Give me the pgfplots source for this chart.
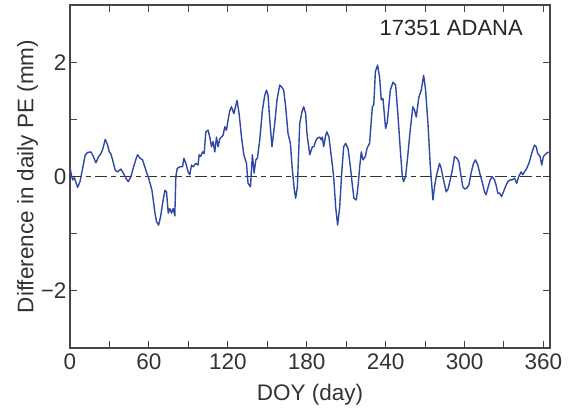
\documentclass[border=0pt]{standalone}
\usepackage{fontspec}
\setmainfont{Liberation Sans}
\usepackage{pgfplots}
\pgfplotsset{compat=1.18}
\definecolor{peblue}{RGB}{48,72,165}
\definecolor{axgray}{RGB}{70,70,70}

\pgfplotstableread{
doy diff
0 0.17
1 0.03
2 -0.06
3.3 -0.02
5.8 -0.19
7.6 -0.09
9.6 0.14
11.6 0.38
13.4 0.42
16 0.43
17.7 0.35
19.7 0.24
21.8 0.35
23.5 0.40
24.8 0.47
26.8 0.65
28.6 0.55
29.9 0.43
31 0.40
32.4 0.29
34.4 0.11
36.2 0.08
38.7 0.13
40.5 0.06
42.5 -0.03
44.3 -0.09
46.3 0
48.4 0.17
50.1 0.30
51.4 0.38
53.2 0.32
55.2 0.29
57.7 0.11
60.2 -0.06
62.3 -0.24
63.3 -0.41
64.6 -0.64
65.8 -0.79
67.4 -0.85
68.9 -0.70
70.4 -0.47
72.2 -0.24
73.4 -0.27
74.7 -0.64
75.9 -0.56
77.2 -0.64
78.5 -0.56
79.7 -0.69
80.5 0
81.5 0.14
83.5 0.17
85.6 0.17
86.6 0.32
88.1 0.23
89.8 0.08
91.1 0.03
92.4 0.20
93.7 0.17
95.7 0.23
97.4 0.20
98.2 0.38
99.3 0.35
100.8 0.43
102 0.40
103.3 0.78
105 0.81
106.3 0.69
107.6 0.52
108.8 0.61
110.1 0.43
111.4 0.69
112.6 0.52
113.9 0.66
116.4 0.72
117.7 0.87
119 0.81
120.2 0.99
121.5 1.15
122.8 1.22
124.6 1.10
127 1.33
128.6 1.10
130.4 0.69
132.2 0.38
134.2 0.23
135.4 -0.12
137.2 -0.18
138.7 0.38
140 0.06
141.3 0.29
142.5 0.32
144.3 0.64
146.3 1.16
148.1 1.42
149.4 1.51
150.6 1.42
151.9 0.99
153.6 0.52
155.7 0.93
157.4 1.34
159.5 1.60
160.8 1.57
162.5 1.51
164 1.22
165.8 0.75
167.6 0.58
169.1 0.11
170.6 -0.24
171.6 -0.38
172.9 -0.18
174.7 0.93
176.4 1.13
177.7 1.22
179.2 1.10
180.2 0.75
182.3 0.38
184.3 0.52
185.5 0.52
186.6 0.61
188.1 0.67
189.9 0.69
191.1 0.64
191.9 0.69
192.9 0.52
194.4 0.72
195.4 0.78
196.9 0.69
198.7 0.35
200.5 0
202 -0.53
203.5 -0.85
205.1 -0.53
206.6 0.06
208.1 0.52
209.6 0.58
211.4 0.49
213.2 0.17
214.7 -0.15
215.9 -0.38
217.7 -0.41
219 -0.18
220.3 0.17
221.5 0.43
222.8 0.29
224.6 0.35
225.8 0.49
227.8 0.58
229.9 1.22
231 1.25
232.2 1.83
233.9 1.95
235.4 1.74
236.7 1.34
238 1.36
240 0.84
241.3 0.96
243.6 1.51
245.6 1.65
247.6 1.60
249.3 1.10
251.2 0.46
252.7 0
253.7 -0.09
255.2 0
257 0.40
258.7 0.81
260.7 1.22
262 1.16
263.3 1.04
265.3 1.39
267.1 1.51
268.9 1.77
270.4 1.51
272.2 0.93
274 0.17
275.2 -0.18
276 -0.41
277.2 -0.18
278.5 0
279.7 0.11
281 0.23
282.3 0.14
284 -0.06
286.1 -0.27
287.6 -0.21
289.1 -0.06
290.7 0.11
292.4 0.35
294.2 0.32
295.7 0.26
297 0.06
298.7 -0.18
300.2 -0.22
301.8 -0.20
303.3 -0.15
305 0.06
306.8 0.23
308.3 0.29
310.1 0.20
311.9 0.03
313.4 -0.09
315.2 -0.27
316.4 -0.32
318 -0.18
319.5 -0.06
321 0
322.8 -0.06
324 -0.15
325.3 -0.29
326.6 -0.29
328.1 -0.35
329.6 -0.27
331.1 -0.18
332.9 -0.09
334.7 -0.06
336.2 -0.06
338 -0.03
339.7 -0.12
341.2 0
343.1 0.08
344.3 0.03
345.6 0.08
347.3 0.14
349.4 0.26
351.4 0.43
353.2 0.55
354.5 0.52
355.7 0.40
357.5 0.35
358.7 0.20
360 0.35
362 0.40
364 0.43
}\adana

\begin{document}
\begin{tikzpicture}
\begin{axis}[
  scale only axis, width=480pt, height=343pt,
  xmin=0, xmax=365, ymin=-3, ymax=3,
  axis line style={axgray, line width=1.1pt},
  tick style={axgray, line width=1pt},
  tick align=inside,
  major tick length=7pt, minor tick length=7pt,
  xtick={0,60,120,180,240,300,360},
  xticklabels={0,60,120,180,240,300,360},
  minor xtick={30,90,150,210,270,330},
  ytick={-2,0,2},
  yticklabels={−2,0,2},
  minor ytick={-1,1},
  xtick pos=both, ytick pos=both,
  xticklabel pos=bottom, yticklabel pos=left,
  ticklabel style={font=\fontsize{22.5}{26}\selectfont, text=black!80},
  xticklabel style={yshift=-2pt},
  label style={font=\fontsize{22.5}{27}\selectfont, text=black!80},
  xlabel={DOY (day)},
  ylabel={Difference in daily PE (mm)},
  xlabel style={yshift=-8pt},
  ylabel style={yshift=-4pt},
  clip=true,
]
\addplot[black!80, line width=1pt, dash pattern=on 12pt off 4pt on 5pt off 4pt] coordinates {(0,0) (365,0)};
\addplot[peblue, line width=1.4pt, line join=round] table[x=doy, y=diff] {\adana};
\node[anchor=north east, inner sep=0pt, font=\fontsize{22}{26}\selectfont, text=black!85]
  at ([xshift=-27pt, yshift=-15pt]rel axis cs:1,1) {17351 ADANA};
\end{axis}
\pgfresetboundingbox
\path ([shift={(-70pt,-64pt)}]current axis.south west) rectangle ([shift={(22pt,5pt)}]current axis.north east);
\end{tikzpicture}
\end{document}
